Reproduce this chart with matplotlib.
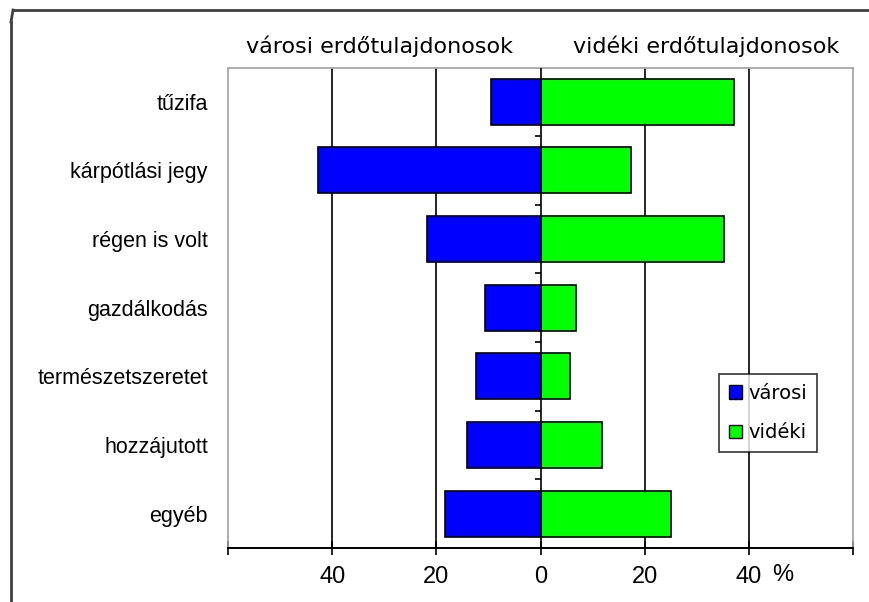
import matplotlib.pyplot as plt
from matplotlib.lines import Line2D
from matplotlib.patches import Patch

# data (percent)
categories = ['tűzifa', 'kárpótlási jegy', 'régen is volt', 'gazdálkodás',
              'természetszeretet', 'hozzájutott', 'egyéb']
varosi = [9.6, 42.7, 21.8, 10.7, 12.3, 14.1, 18.4]
videki = [37.2, 17.4, 35.3, 6.8, 5.7, 11.8, 25.1]
xticks = [-60, -40, -20, 0, 20, 40, 60]
xticklabels = ['', '40', '20', '0', '20', '40', '']

plt.rcParams['font.family'] = ['Liberation Sans', 'DejaVu Sans']

fig = plt.figure(figsize=(8.69, 6.02), dpi=100)
ax = fig.add_axes([228/869, 1 - 548/602, (853 - 228)/869, (548 - 67.5)/602])

ypos = list(range(len(categories)))
ax.barh(ypos, [-v for v in varosi], height=0.67, color='#0000ff',
        edgecolor='black', linewidth=1.2, zorder=3)
ax.barh(ypos, videki, height=0.67, color='#00ff00',
        edgecolor='black', linewidth=1.2, zorder=3)

ax.set_xlim(-60, 60)
ax.set_ylim(len(categories) - 0.5, -0.5)

# vertical gridlines at +-20, +-40
for g in [-40, -20, 20, 40]:
    ax.axvline(g, color='black', linewidth=1.2, zorder=1)
# zero axis with small ticks between categories
ax.axvline(0, color='black', linewidth=1.2, zorder=4)
for b in range(1, len(categories)):
    ax.plot([-1.0, 0], [b - 0.5, b - 0.5], color='black', linewidth=1.2,
            zorder=4, solid_capstyle='butt')

ax.set_xticks(xticks)
ax.set_xticklabels(xticklabels, fontsize=17)
ax.tick_params(axis='x', direction='inout', length=10, width=1.2, pad=8)
# unit sign after the last label, the number itself stays centred on its tick
ax.text(46.5, -(5 + 8 * 100 / 72) / 480.5, '%', transform=ax.get_xaxis_transform(),
        ha='center', va='top', fontsize=17)
ax.set_yticks(ypos)
ax.set_yticklabels(categories, fontsize=15.5)
ax.tick_params(axis='y', length=0, pad=14.5)

for s in ['left', 'top', 'right']:
    ax.spines[s].set_color('#a0a0a0')
    ax.spines[s].set_linewidth(1.2)
ax.spines['bottom'].set_color('black')
ax.spines['bottom'].set_linewidth(1.4)

fig.text(379/869, 1 - 46/602, 'városi erdőtulajdonosok', ha='center', va='center',
         fontsize=16, family='DejaVu Sans')
fig.text(706/869, 1 - 46/602, 'vidéki erdőtulajdonosok', ha='center', va='center',
         fontsize=16, family='DejaVu Sans')

handles = [Patch(facecolor='#0000ff', edgecolor='black', label='városi'),
           Patch(facecolor='#00ff00', edgecolor='black', label='vidéki')]
leg = ax.legend(handles=handles, loc='upper left', bbox_to_anchor=((719 - 228)/625, 1 - (374 - 67.5)/480.5),
                prop={'family': 'DejaVu Sans', 'size': 14}, frameon=True, fancybox=False,
                handlelength=0.7, handleheight=0.7, handletextpad=0.3, labelspacing=1.05,
                borderpad=0.5, borderaxespad=0)
leg.get_frame().set_edgecolor('black')
leg.get_frame().set_linewidth(1.2)

# outer frame
fig.add_artist(Line2D([13/869, 1], [1 - 10/602, 1 - 10/602], color='#404040', linewidth=2))
fig.add_artist(Line2D([11/869, 11/869], [1 - 22/602, 0], color='#404040', linewidth=2))
fig.add_artist(Line2D([11/869, 13/869], [1 - 22/602, 1 - 10/602], color='#404040', linewidth=2))

fig.savefig('out.png', dpi=100)
